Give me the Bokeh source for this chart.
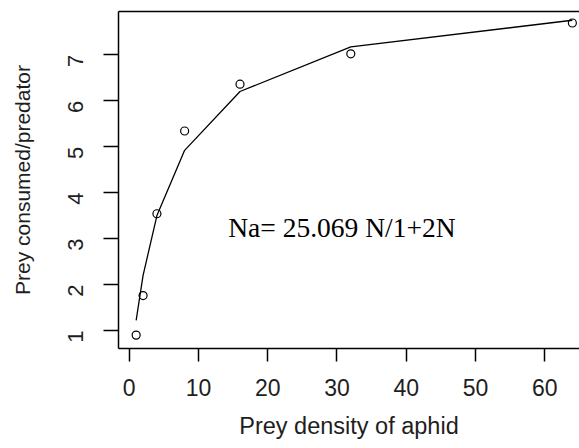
import math
from bokeh.plotting import figure
from bokeh.models import Range1d, FixedTicker, LinearAxis, Label
from bokeh.embed import file_html
from bokeh.resources import INLINE

# Data
prey_density = [1, 2, 4, 8, 16, 32, 64]
prey_consumed = [0.90, 1.76, 3.54, 5.34, 6.36, 7.02, 7.69]
fitted_consumed = [1.22, 2.20, 3.50, 4.92, 6.20, 7.17, 7.75]
x_ticks = [0, 10, 20, 30, 40, 50, 60]
y_ticks = [1, 2, 3, 4, 5, 6, 7]
equation = "Na= 25.069 N/1+2N"

TEXT = "#1e1e1e"

p = figure(width=579, height=448, output_backend="svg", toolbar_location=None,
           x_range=Range1d(-1.55, 65.03), y_range=Range1d(0.609, 7.94),
           min_border_left=118, min_border_right=0, min_border_top=11,
           min_border_bottom=100)
p.outline_line_color = None
p.grid.visible = False
p.background_fill_color = "white"
p.border_fill_color = "white"

# x axis
xa = p.xaxis[0]
xa.ticker = FixedTicker(ticks=x_ticks)
xa.minor_tick_line_color = None
xa.major_tick_in = 0
xa.major_tick_out = 13
xa.major_tick_line_width = 1.5
xa.axis_line_width = 1.5
xa.axis_line_color = "black"
xa.major_label_standoff = 17
xa.major_label_text_font = "Liberation Sans"
xa.major_label_text_font_size = "23px"
xa.major_label_text_color = TEXT
xa.axis_label = "Prey density of aphid"
xa.axis_label_text_font = "Liberation Sans"
xa.axis_label_text_font_size = "23.5px"
xa.axis_label_text_font_style = "normal"
xa.axis_label_text_color = TEXT
xa.axis_label_standoff = 14

# y axis
ya = p.yaxis[0]
ya.ticker = FixedTicker(ticks=y_ticks)
ya.minor_tick_line_color = None
ya.major_tick_in = 0
ya.major_tick_out = 15
ya.major_tick_line_width = 1.5
ya.axis_line_width = 1.5
ya.axis_line_color = "black"
ya.major_label_orientation = math.pi / 2
ya.major_label_standoff = 28
ya.major_label_text_font = "Liberation Sans"
ya.major_label_text_font_size = "22px"
ya.major_label_text_color = TEXT
ya.axis_label = "Prey consumed/predator"
ya.axis_label_text_font = "Liberation Sans"
ya.axis_label_text_font_size = "21px"
ya.axis_label_text_font_style = "normal"
ya.axis_label_text_color = TEXT
ya.axis_label_standoff = 24

# top border of the box
top = LinearAxis(ticker=FixedTicker(ticks=[]), major_tick_out=0, major_tick_in=0,
                 minor_tick_out=0, minor_tick_in=0,
                 major_label_text_font_size="0px", axis_line_width=1.5,
                 axis_line_color="black")
p.add_layout(top, "above")

# fitted curve and observations
p.line(prey_density, fitted_consumed, line_color="black", line_width=1.3)
p.scatter(prey_density, prey_consumed, marker="circle", size=8,
          fill_color=None, line_color="black", line_width=1.2)

p.add_layout(Label(x=14.3, y=3.25, text=equation, text_font="Liberation Serif",
                   text_font_size="27.5px", text_color="black",
                   text_baseline="alphabetic", text_align="left"))

open("out.html", "w").write(file_html(p, INLINE))
